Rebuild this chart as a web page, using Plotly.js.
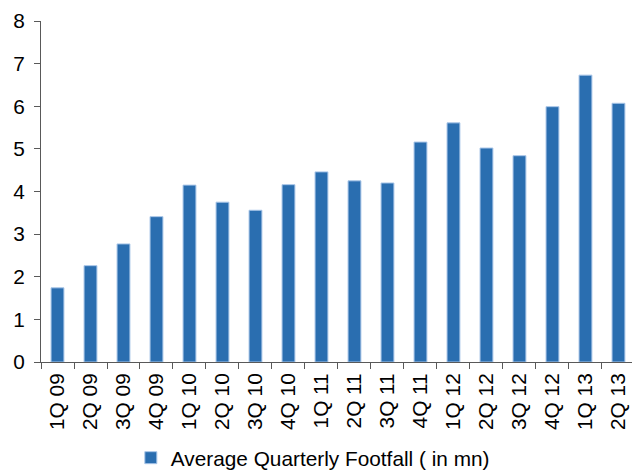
<!DOCTYPE html>
<html>
<head>
<meta charset="utf-8">
<script src="https://cdn.plot.ly/plotly-3.0.1.min.js"></script>
<style>
  html, body { margin: 0; padding: 0; background: #ffffff; overflow: hidden; }
  #chart { width: 632px; height: 482px; }
</style>
</head>
<body>
<div id="chart"></div>
<script>
const quarters = ['1Q 09', '2Q 09', '3Q 09', '4Q 09', '1Q 10', '2Q 10', '3Q 10', '4Q 10',
                  '1Q 11', '2Q 11', '3Q 11', '4Q 11', '1Q 12', '2Q 12', '3Q 12', '4Q 12',
                  '1Q 13', '2Q 13'];
const footfall = [1.74, 2.26, 2.77, 3.41, 4.15, 3.75, 3.56, 4.16,
                  4.46, 4.25, 4.20, 5.16, 5.61, 5.02, 4.84, 5.99,
                  6.73, 6.07];
const seriesName = 'Average Quarterly Footfall ( in mn)';
const yTicks = [0, 1, 2, 3, 4, 5, 6, 7, 8];

const font = { family: '"Liberation Sans", Arial, sans-serif', size: 20.8, color: '#000000' };

const trace = {
  type: 'bar',
  x: quarters,
  y: footfall,
  name: seriesName,
  showlegend: true,
  marker: { color: '#2a6eb0', line: { color: '#a9c6e8', width: 1 } },
  hoverinfo: 'x+y'
};

const layout = {
  width: 632,
  height: 482,
  margin: { l: 41, r: 0, t: 21, b: 120, pad: 0 },
  paper_bgcolor: '#ffffff',
  plot_bgcolor: '#ffffff',
  font: font,
  bargap: 0.61,
  showlegend: true,
  legend: {
    orientation: 'h',
    xanchor: 'left',
    x: 0.152,
    yanchor: 'middle',
    y: -0.282,
    font: font,
    bgcolor: 'rgba(0,0,0,0)'
  },
  xaxis: {
    type: 'category',
    range: [-0.5, 17.41],
    showline: true,
    linecolor: '#595959',
    linewidth: 1,
    ticks: 'outside',
    tickson: 'boundaries',
    ticklen: 6,
    tickcolor: '#595959',
    tickangle: -90,
    tickfont: font,
    ticklabelstandoff: 2,
    showgrid: false,
    zeroline: false,
    automargin: false,
    fixedrange: true
  },
  yaxis: {
    range: [0, 8],
    tickvals: yTicks,
    showline: true,
    linecolor: '#595959',
    linewidth: 1,
    ticks: 'outside',
    ticklen: 6,
    tickcolor: '#595959',
    tickfont: font,
    ticklabelstandoff: 5,
    showgrid: false,
    zeroline: false,
    automargin: false,
    fixedrange: true
  }
};

Plotly.newPlot('chart', [trace], layout, { displayModeBar: false, staticPlot: true });
</script>
</body>
</html>
